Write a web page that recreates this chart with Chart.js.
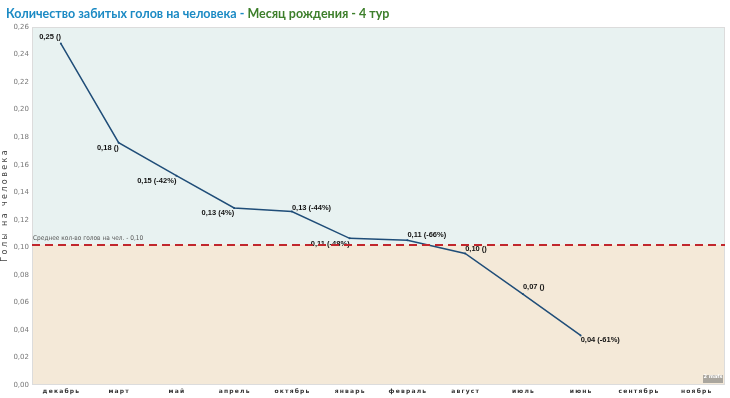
<!DOCTYPE html>
<html>
<head>
<meta charset="utf-8">
<script src="https://cdn.jsdelivr.net/npm/chart.js@4/dist/chart.umd.min.js"></script>
<style>
  html, body { margin: 0; padding: 0; background: #fff; }
  #wrap { position: relative; width: 730px; height: 398px; }
  #title {
    position: absolute; left: 6px; top: 6px;
    font: bold 12.5px Lato, "Open Sans", sans-serif;
    white-space: nowrap;
  }
  #title .a { color: #1b8ac4; }
  #title .b { color: #3d7f2b; }
</style>
</head>
<body>
<div id="wrap">
  <canvas id="c" width="730" height="398"></canvas>
  <div id="title"><span class="a">Количество забитых голов на человека - </span><span class="b">Месяц рождения - 4 тур</span></div>
</div>
<script>
// месяцы (категории)
const months = ['декабрь', 'март', 'май', 'апрель', 'октябрь', 'январь', 'февраль', 'август', 'июль', 'июнь', 'сентябрь', 'ноябрь'];
// голы на человека
const goals = [0.248, 0.176, 0.152, 0.1286, 0.126, 0.1065, 0.1052, 0.0955, 0.066, 0.036, null, null];
// изменение в скобках
const changes = ['', '', '-42%', '4%', '-44%', '-48%', '-66%', '', '', '-61%', '', ''];
// среднее
const avgGoals = 0.102;
const avgLabel = 'Среднее кол-во голов на чел.';
const yTicks = [0, 0.02, 0.04, 0.06, 0.08, 0.10, 0.12, 0.14, 0.16, 0.18, 0.20, 0.22, 0.24, 0.26];

// где рисовать подпись точки: r = текст слева от точки, l = справа; число = сдвиг по y
const labelPlace = [['r', -7], ['r', 5], ['r', 5], ['r', 5], ['l', -4], ['r', 6], ['l', -5], ['l', -5], ['l', -7], ['l', 5]];

const fmt = v => v.toFixed(2).replace('.', ',');
const spaced = (s, gap = '\u2009') => s.split('').join(gap);

const zonePlugin = {
  id: 'zones',
  beforeDraw(chart) {
    const { ctx: c, chartArea: { left, right, top, bottom }, scales: { y } } = chart;
    const yAvg = y.getPixelForValue(avgGoals);
    c.save();
    c.fillStyle = '#e8f2f1';
    c.fillRect(left, top, right - left, yAvg - top);
    c.fillStyle = '#f4e9d8';
    c.fillRect(left, yAvg, right - left, bottom - yAvg);
    c.strokeStyle = '#dcdcdc';
    c.lineWidth = 1;
    c.strokeRect(left + 0.5, top + 0.5, right - left - 1, bottom - top - 1);
    c.restore();
  },
  afterDatasetsDraw(chart) {
    const { ctx: c, chartArea: { left, right, bottom }, scales: { y } } = chart;
    const yAvg = Math.round(y.getPixelForValue(avgGoals));
    c.save();

    // подписи точек
    const meta = chart.getDatasetMeta(0);
    c.font = 'bold 7.5px "Liberation Sans", Arial, sans-serif';
    c.fillStyle = '#111';
    c.textBaseline = 'middle';
    meta.data.forEach((pt, i) => {
      if (goals[i] == null) return;
      const [side, dy] = labelPlace[i];
      const txt = fmt(goals[i]) + ' (' + changes[i] + ')';
      c.textAlign = side === 'r' ? 'right' : 'left';
      c.fillText(txt, pt.x, pt.y + dy);
    });

    // средняя линия
    c.strokeStyle = '#c1272d';
    c.lineWidth = 2;
    c.setLineDash([8, 5]);
    c.beginPath();
    c.moveTo(left, yAvg);
    c.lineTo(right, yAvg);
    c.stroke();
    c.setLineDash([]);
    c.font = '6.5px "Liberation Sans Narrow", "DejaVu Sans Condensed", sans-serif';
    c.fillStyle = '#555';
    c.textBaseline = 'bottom';
    c.textAlign = 'left';
    c.fillText(avgLabel + ' - ' + fmt(avgGoals), left + 1, yAvg - 3);

    // значок в углу
    c.fillStyle = '#aaa69e';
    c.fillRect(right - 22, bottom - 10, 20, 8);
    c.fillStyle = '#fff';
    c.font = 'bold 5px "DejaVu Sans", sans-serif';
    c.textAlign = 'center';
    c.fillText('2 mafs', right - 12, bottom - 5.5);
    c.restore();
  }
};

new Chart(document.getElementById('c'), {
  type: 'line',
  data: {
    labels: months,
    datasets: [{
      data: goals,
      borderColor: '#1f4d78',
      borderWidth: 1.5,
      pointRadius: 1,
      pointBackgroundColor: '#1f4d78',
      pointBorderWidth: 0,
      tension: 0,
      fill: false,
    }]
  },
  options: {
    responsive: false,
    animation: false,
    layout: { padding: { top: 27, right: 5, left: 0, bottom: 0 } },
    plugins: {
      legend: { display: false },
      tooltip: { enabled: false },
    },
    scales: {
      x: {
        offset: true,
        grid: { display: false, drawTicks: false },
        border: { display: false },
        ticks: {
          color: '#333',
          font: { size: 6, weight: 'bold', family: 'DejaVu Sans' },
          padding: 3,
          maxRotation: 0,
          autoSkip: false,
          callback(val, i) { return spaced(months[i]); }
        },
        afterFit(scale) { scale.height = 13; }
      },
      y: {
        min: 0,
        max: 0.26,
        afterBuildTicks(scale) { scale.ticks = yTicks.map(v => ({ value: v })); },
        grid: { display: false, drawTicks: false },
        border: { display: false },
        ticks: {
          color: '#777',
          font: { size: 7, family: 'DejaVu Sans' },
          padding: 3,
          callback(val) { return fmt(val); }
        },
        title: {
          display: true,
          text: spaced('Голы на человека', '\u2009\u200a'),
          color: '#444',
          font: { size: 8, family: 'DejaVu Sans' },
          padding: { top: 0, bottom: 0 }
        },
        afterFit(scale) { scale.width = 32; }
      }
    }
  },
  plugins: [zonePlugin]
});
</script>
</body>
</html>
